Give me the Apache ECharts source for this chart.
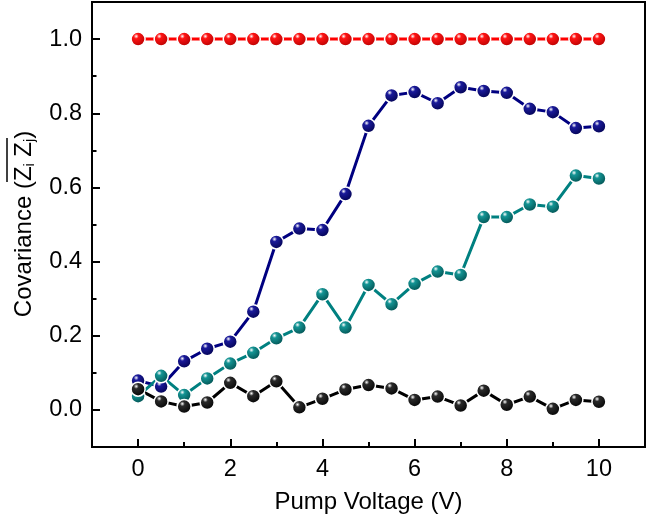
<!DOCTYPE html>
<html>
<head>
<meta charset="utf-8">
<script src="https://cdn.jsdelivr.net/npm/echarts@6/dist/echarts.min.js"></script>
<style>
  html, body { margin: 0; padding: 0; background: #fff; }
  #chart { width: 648px; height: 514px; }
</style>
</head>
<body>
<div id="chart"></div>
<script>
const voltages = [0, 0.5, 1, 1.5, 2, 2.5, 3, 3.5, 4, 4.5, 5, 5.5, 6, 6.5, 7, 7.5, 8, 8.5, 9, 9.5, 10];

const redValues = [1, 1, 1, 1, 1, 1, 1, 1, 1, 1, 1, 1, 1, 1, 1, 1, 1, 1, 1, 1, 1];
const navyValues = [0.079, 0.063, 0.131, 0.165, 0.184, 0.265, 0.453, 0.489, 0.485, 0.582, 0.766,
  0.848, 0.857, 0.827, 0.870, 0.860, 0.855, 0.812, 0.803, 0.760, 0.765];
const tealValues = [0.037, 0.092, 0.040, 0.085, 0.125, 0.154, 0.193, 0.222, 0.312, 0.222, 0.337,
  0.285, 0.340, 0.373, 0.364, 0.520, 0.520, 0.554, 0.548, 0.632, 0.624];
const blackValues = [0.056, 0.023, 0.009, 0.020, 0.073, 0.037, 0.077, 0.007, 0.030, 0.055, 0.067,
  0.058, 0.027, 0.036, 0.012, 0.052, 0.014, 0.036, 0.003, 0.027, 0.022];

const xMajorTicks = [0, 2, 4, 6, 8, 10];
const xMinorTicks = [1, 3, 5, 7, 9];
const yMajorTicks = [0, 0.2, 0.4, 0.6, 0.8, 1.0];
const yMinorTicks = [0.1, 0.3, 0.5, 0.7, 0.9];

const FONT = "'Liberation Sans', Arial, sans-serif";

const chart = echarts.init(document.getElementById("chart"));

function sphere(base, dark) {
  return {
    type: "radial",
    x: 0.38,
    y: 0.32,
    r: 0.72,
    colorStops: [
      { offset: 0, color: "#ffffff" },
      { offset: 0.22, color: base },
      { offset: 1, color: dark },
    ],
  };
}

function pairs(values) {
  return voltages.map((v, i) => [v, values[i]]);
}

function makeSeries(name, values, lineColor, base, dark) {
  return {
    name: name,
    type: "line",
    data: pairs(values),
    symbol: "circle",
    symbolSize: 14,
    lineStyle: { color: lineColor, width: 3 },
    itemStyle: { color: sphere(base, dark), borderColor: "#fff", borderWidth: 1.5 },
    emphasis: { disabled: true },
  };
}

const xRange = { min: -1, max: 11 };
const yRange = { min: -0.1, max: 1.1 };
const tickLine = { color: "#000", width: 2 };

chart.setOption({
  animation: false,
  grid: {
    left: 92, right: 3, top: 2, bottom: 67,
    outerBoundsMode: "none",
    show: true, borderColor: "#000", borderWidth: 2,
  },
  xAxis: [
    {
      type: "value", ...xRange,
      name: "Pump Voltage (V)",
      nameLocation: "middle",
      nameGap: 43,
      nameTextStyle: { fontFamily: FONT, fontSize: 24, color: "#000" },
      axisLine: { onZero: false, lineStyle: { color: "#000", width: 2 } },
      axisTick: { inside: true, length: 8, customValues: xMajorTicks, lineStyle: tickLine },
      axisLabel: { customValues: xMajorTicks, margin: 11, fontFamily: FONT, fontSize: 23.5, color: "#000" },
      splitLine: { show: false },
    },
    {
      type: "value", ...xRange,
      position: "bottom",
      axisLine: { show: false, onZero: false },
      axisTick: { inside: true, length: 5, customValues: xMinorTicks, lineStyle: tickLine },
      axisLabel: { show: false },
      splitLine: { show: false },
    },
  ],
  yAxis: [
    {
      type: "value", ...yRange,
      axisLine: { show: true, onZero: false, lineStyle: { color: "#000", width: 2 } },
      axisTick: { show: true, inside: true, length: 8, customValues: yMajorTicks, lineStyle: tickLine },
      axisLabel: {
        customValues: yMajorTicks, margin: 10, fontFamily: FONT, fontSize: 23.5, color: "#000",
        formatter: (v) => v.toFixed(1),
      },
      splitLine: { show: false },
    },
    {
      type: "value", ...yRange,
      position: "left",
      axisLine: { show: false, onZero: false },
      axisTick: { show: true, inside: true, length: 4.5, customValues: yMinorTicks, lineStyle: tickLine },
      axisLabel: { show: false },
      splitLine: { show: false },
    },
  ],
  graphic: [
    {
      type: "text",
      x: 24,
      y: 224,
      rotation: Math.PI / 2,
      style: {
        text: "{a|Covariance (}{a|Z}{s|i}{a| Z}{s|j}{a|)}",
        align: "center",
        verticalAlign: "middle",
        fill: "#000",
        rich: {
          a: { fontFamily: FONT, fontSize: 24, lineHeight: 28, fill: "#000" },
          s: { fontFamily: FONT, fontSize: 14, lineHeight: 14, padding: [12, 0, 0, 0], fill: "#000" },
        },
      },
    },
    {
      type: "line",
      shape: { x1: 7, y1: 138, x2: 7, y2: 182 },
      style: { stroke: "#000", lineWidth: 1.5 },
    },
  ],
  series: [
    makeSeries("navy", navyValues, "#000080", "#1a1a9a", "#00004a"),
    makeSeries("teal", tealValues, "#008080", "#149494", "#004a4a"),
    makeSeries("black", blackValues, "#000000", "#2a2a2a", "#000000"),
    makeSeries("red", redValues, "#ff0000", "#ff1414", "#b00000"),
  ],
});

window.addEventListener("resize", () => chart.resize());
</script>
</body>
</html>
